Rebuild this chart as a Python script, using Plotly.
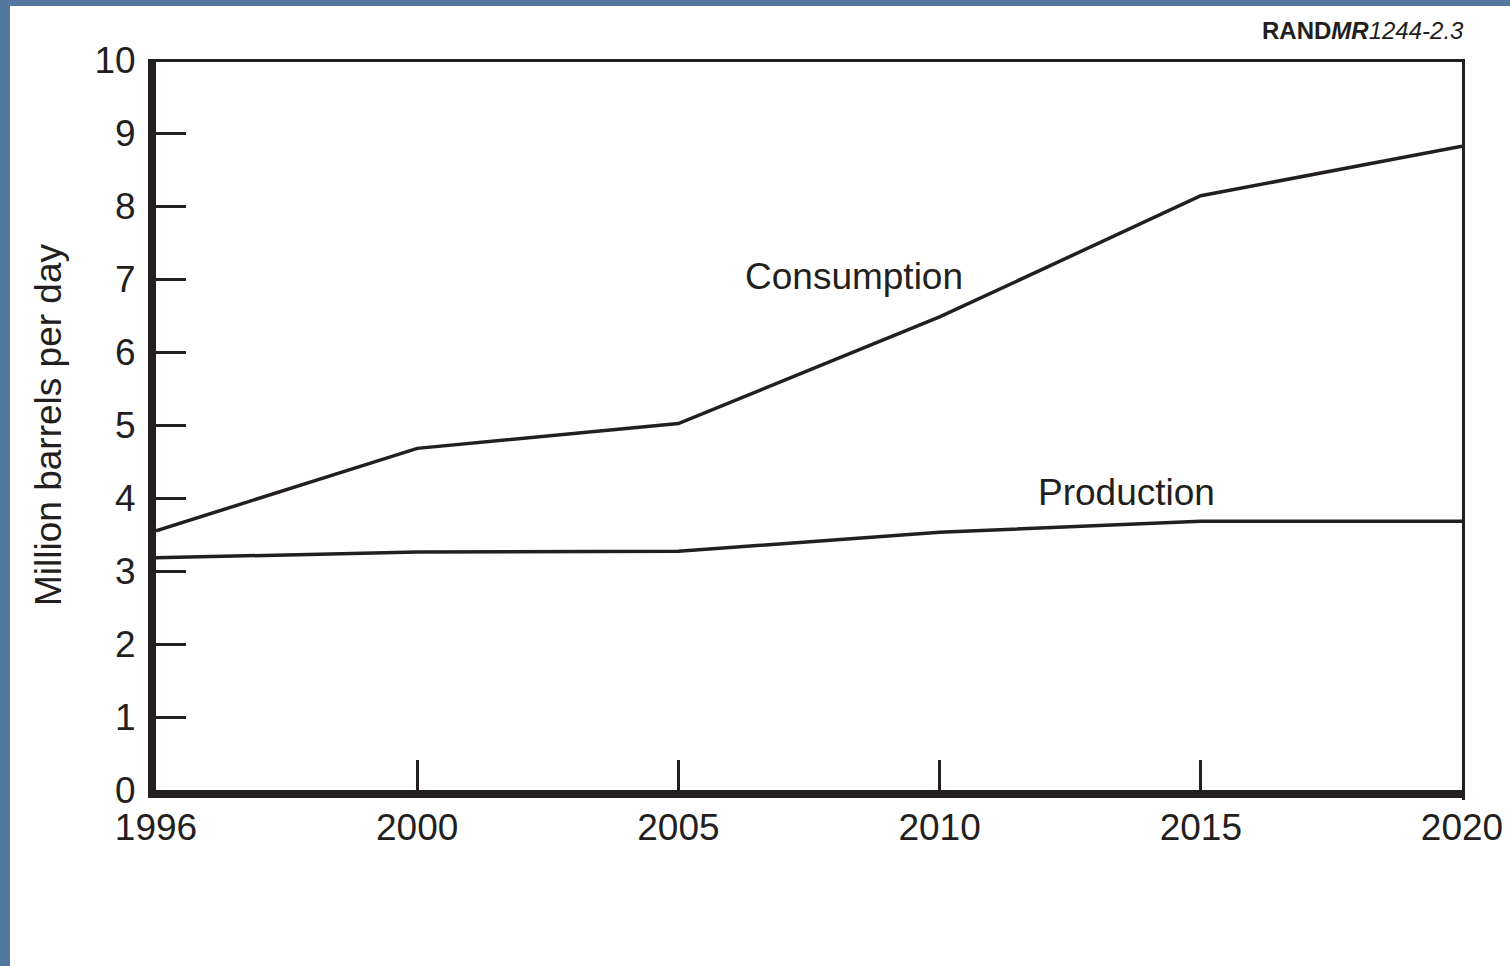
import plotly.graph_objects as go

years = ["1996", "2000", "2005", "2010", "2015", "2020"]
consumption = [3.55, 4.68, 5.02, 6.48, 8.14, 8.82]
production = [3.18, 3.26, 3.27, 3.53, 3.68, 3.68]
y_ticks = [0, 1, 2, 3, 4, 5, 6, 7, 8, 9, 10]

INK = "#231f20"
FONT = "Liberation Sans, Arial, Helvetica, sans-serif"

W, H = 1510, 966
L, R, T, B = 156, 48, 60, 176
pw, ph = W - L - R, H - T - B

def px_x(p):
    return (p - L) / pw

def px_y(p):
    return (H - B - p) / ph

fig = go.Figure()
fig.add_trace(go.Scatter(x=years, y=consumption, mode="lines",
                         line=dict(color=INK, width=3.5), showlegend=False,
                         name="Consumption"))
fig.add_trace(go.Scatter(x=years, y=production, mode="lines",
                         line=dict(color=INK, width=3.5), showlegend=False,
                         name="Production"))

shapes = [
    # white page on blue background
    dict(type="rect", xref="paper", yref="paper",
         x0=px_x(10), x1=px_x(1515), y0=px_y(971), y1=px_y(6),
         fillcolor="white", line=dict(width=0), layer="below"),
    # top frame line
    dict(type="line", xref="paper", yref="paper", x0=px_x(148), x1=px_x(1465),
         y0=px_y(60.5), y1=px_y(60.5), line=dict(color=INK, width=3)),
    # right frame line
    dict(type="line", xref="paper", yref="paper", x0=px_x(1463.5), x1=px_x(1463.5),
         y0=px_y(59), y1=px_y(800), line=dict(color=INK, width=3)),
]

annotations = [
    dict(text="Consumption", x=px_x(854), y=px_y(276), xref="paper", yref="paper",
         showarrow=False, font=dict(family=FONT, size=37, color=INK),
         xanchor="center", yanchor="middle"),
    dict(text="Production", x=px_x(1126), y=px_y(492), xref="paper", yref="paper",
         showarrow=False, font=dict(family=FONT, size=37, color=INK),
         xanchor="center", yanchor="middle"),
    dict(text="<b>RAND</b><b><i>MR</i></b><i>1244-2.3</i>", x=px_x(1466), y=px_y(30),
         xref="paper", yref="paper", showarrow=False,
         font=dict(family=FONT, size=24, color=INK),
         xanchor="right", yanchor="middle"),
]

fig.update_layout(
    width=W, height=H,
    margin=dict(l=L, r=R, t=T, b=B, pad=0, autoexpand=False),
    paper_bgcolor="#54789f",
    plot_bgcolor="white",
    shapes=shapes,
    annotations=annotations,
    font=dict(family=FONT, color=INK),
    xaxis=dict(
        type="category", range=[0, 5], showgrid=False, zeroline=False,
        automargin=False,
        showline=True, linewidth=8, linecolor=INK,
        ticks="inside", ticklen=30, tickwidth=2.5, tickcolor=INK,
        tickfont=dict(family=FONT, size=37, color=INK),
        tickvals=years, ticktext=years, ticklabelstandoff=-2,
    ),
    yaxis=dict(
        range=[0, 10], showgrid=False, zeroline=False,
        automargin=False,
        showline=True, linewidth=8, linecolor=INK,
        ticks="inside", ticklen=30, tickwidth=2.5, tickcolor=INK,
        tickvals=y_ticks, ticktext=[str(v) for v in y_ticks],
        tickfont=dict(family=FONT, size=37, color=INK),
        ticklabelstandoff=5,
        title=dict(text="Million barrels per day",
                   font=dict(family=FONT, size=37, color=INK), standoff=24),
    ),
)

fig.write_html("out.html",
               config=dict(displayModeBar=False),
               post_script="document.body.style.margin='0';document.body.style.overflow='hidden';")
